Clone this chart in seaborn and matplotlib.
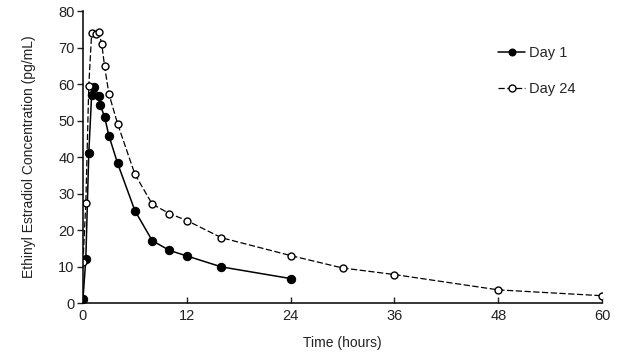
import pandas as pd
import numpy as np
import matplotlib
matplotlib.use('Agg')
import matplotlib.pyplot as plt
import seaborn as sns

# concentrations (pg/mL)
day1_time = [0, 0.33, 0.67, 1, 1.33, 1.83, 2, 2.5, 3, 4, 6, 8, 10, 12, 16, 24]
day1_conc = [1.1, 12.1, 41.0, 57.0, 59.2, 56.7, 54.2, 51.0, 45.8, 38.3, 25.3, 17.1, 14.4, 12.9, 9.9, 6.7]

day24_time = [0, 0.33, 0.67, 1, 1.5, 1.83, 2.17, 2.5, 3, 4, 6, 8, 10, 12, 16, 24, 30, 36, 48, 60]
day24_conc = [11.1, 27.4, 59.5, 73.9, 73.6, 74.3, 71.0, 64.8, 57.3, 49.1, 35.3, 27.1, 24.5, 22.6, 17.9, 13.0, 9.6, 7.8, 3.6, 2.0]

x_ticks = [0, 12, 24, 36, 48, 60]
y_ticks = [0, 10, 20, 30, 40, 50, 60, 70, 80]

sns.set_style('white')
plt.rcParams['font.family'] = ['Liberation Sans Narrow', 'Liberation Sans', 'DejaVu Sans']

d1 = pd.DataFrame({'time': day1_time, 'conc': day1_conc})
d24 = pd.DataFrame({'time': day24_time, 'conc': day24_conc})

fig = plt.figure(figsize=(6.22, 3.53), dpi=100)
ax = fig.add_axes([0.1334, 0.1416, 0.8346, 0.8272])

sns.lineplot(x='time', y='conc', data=d1, ax=ax, color='black', linewidth=1.1,
             marker='o', markersize=6, markerfacecolor='black', markeredgecolor='black',
             label='Day 1', errorbar=None)
sns.lineplot(x='time', y='conc', data=d24, ax=ax, color='black', linewidth=0.9,
             linestyle=(0, (5, 2)), marker='o', markersize=5, markerfacecolor='white',
             markeredgecolor='black', markeredgewidth=1.0, label='Day 24', errorbar=None)

ax.set_xlim(0, 60)
ax.set_ylim(0, 80)
ax.set_xticks(x_ticks)
ax.set_yticks(y_ticks)
ax.set_xlabel('Time (hours)', fontsize=10, color='#222222', labelpad=10)
ax.set_ylabel('Ethinyl Estradiol Concentration (pg/mL)', fontsize=10, color='#222222', labelpad=16)
ax.tick_params(axis='y', direction='out', length=4, width=1, labelsize=10.5, colors='#222222', pad=2)
ax.tick_params(axis='x', direction='in', length=4, width=1, labelsize=10.5, colors='#222222', pad=4)
ax.tick_params(left=True, bottom=True)

for side in ['top', 'right']:
    ax.spines[side].set_visible(False)
for side in ['left', 'bottom']:
    ax.spines[side].set_color('black')
    ax.spines[side].set_linewidth(1.1)

leg = ax.legend(loc='upper left', bbox_to_anchor=(0.775, 0.925), frameon=False,
                fontsize=10.5, labelspacing=1.5, handlelength=1.8, handletextpad=0.3)
for line in leg.get_lines():
    line.set_markersize(5)

plt.savefig('out.png', dpi=100)
